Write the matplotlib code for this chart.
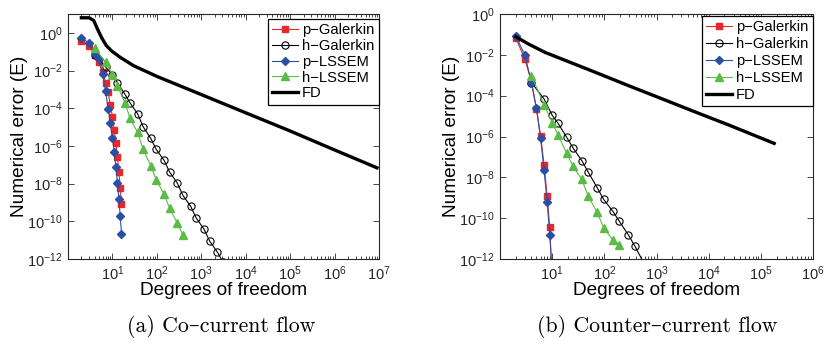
import numpy as np
import matplotlib
matplotlib.use('Agg')
import matplotlib.pyplot as plt
from matplotlib.ticker import LogLocator, NullFormatter, FixedLocator

plt.rcParams['font.family'] = ['Liberation Sans', 'DejaVu Sans']
plt.rcParams['mathtext.default'] = 'regular'

# ---- data: (a) co-current flow ----
dof_p_a = [2, 3, 4, 5, 6, 7, 8, 9, 10, 11, 12, 13, 14, 15, 16]
pgal_a = [0.39, 0.21, 0.067, 0.027, 8e-3, 2.3e-3, 6.9e-4, 1.4e-4, 3.6e-5,
          6.9e-6, 1.35e-6, 2.5e-7, 4e-8, 5.9e-9, 8.3e-10]
plss_a = [0.52, 0.29, 0.076, 0.041, 6.5e-3, 8.4e-4, 9.6e-5, 1.6e-5, 2.7e-6,
          4.7e-7, 7.4e-8, 1.1e-8, 1.5e-9, 1.8e-10, 2.2e-11]
dof_hgal_a = [4, 7, 10, 13, 19, 25, 37, 49, 73, 97, 145, 193, 289, 385, 577,
              769, 1153, 1537, 2305, 3073]
hgal_a = [0.069, 1.55e-2, 6e-3, 2.3e-3, 5.6e-4, 1.9e-4, 5e-5, 1.05e-5, 2.5e-6,
          6.5e-7, 1.74e-7, 4.2e-8, 1.05e-8, 2.4e-9, 6.2e-10, 1.5e-10,
          3.8e-11, 9.1e-12, 2.3e-12, 7e-13]
dof_hlss_a = [4, 7, 10, 13, 19, 25, 37, 49, 73, 97, 145, 193, 289, 385]
hlss_a = [0.16, 0.027, 6e-3, 1.55e-3, 2e-4, 2.9e-5, 5.2e-6, 6.5e-7, 9e-8,
          1.6e-8, 2.8e-9, 5e-10, 8e-11, 1.9e-11]
dof_fd_a = [2, 3, 3.8, 4.6, 5.8, 7.3, 9.8, 15, 30, 100, 946, 1.06e4, 1e5,
            9.4e5, 9e6]
fd_a = [6.3, 6.3, 4.5, 1.6, 0.52, 0.21, 0.105, 0.05, 0.018, 4.9e-3, 5.6e-4,
        5.4e-5, 6.2e-6, 6.5e-7, 6.9e-8]

# ---- data: (b) counter-current flow ----
dof_p_b = [2, 3, 4, 5, 6, 7, 8, 9, 10]
pgal_b = [0.069, 6e-3, 4.9e-4, 2.2e-5, 1.05e-6, 4e-8, 1.26e-9, 3.5e-11, 8e-14]
plss_b = [0.083, 9.8e-3, 4.4e-4, 2.4e-5, 8.1e-7, 2.3e-8, 6.4e-10, 1.5e-11, 2e-13]
dof_hgal_b = [4, 7, 10, 13, 19, 25, 37, 49, 73, 97, 145, 193, 289, 385, 577]
hgal_b = [4.4e-4, 6.9e-5, 1.1e-5, 4.4e-6, 9.1e-7, 2.8e-7, 6.6e-8, 1.8e-8,
          3.1e-9, 8.3e-10, 2.2e-10, 7.2e-11, 1.5e-11, 4.3e-12, 6e-13]
dof_hlss_b = [4, 7, 10, 13, 19, 25, 37, 49, 73, 97, 145, 193]
hlss_b = [9.5e-4, 3.6e-5, 4.8e-6, 1.2e-6, 1.5e-7, 3.6e-8, 8e-9, 1.2e-9,
          1.9e-10, 3.4e-11, 8.5e-12, 4.9e-12]
dof_fd_b = [2, 3.5, 7.4, 15.4, 67, 290, 1260, 5500, 2.4e4, 1.8e5]
fd_b = [0.078, 0.034, 0.013, 6.2e-3, 1.4e-3, 3.1e-4, 7.1e-5, 1.6e-5,
        3.7e-6, 4.6e-7]

labels = ['p\u2212Galerkin', 'h\u2212Galerkin', 'p\u2212LSSEM', 'h\u2212LSSEM', 'FD']
captions = ['(a) Co\u2013current flow', '(b) Counter\u2013current flow']

RED = '#e8262b'
BLUE = '#2b4fa5'
GREEN = '#5cba47'


def draw_panel(ax, p_dof, pgal, plss, hg_dof, hgal, hl_dof, hlss, fd_dof, fd,
               xmax, ymax, leg_top, leg_space):
    ax.plot(p_dof, pgal, '-s', color=RED, lw=0.8, ms=4.8, mec=RED, mfc=RED,
            label=labels[0])
    ax.plot(hg_dof, hgal, '-o', color='black', lw=0.8, ms=5.2, mfc='none',
            mew=0.8, label=labels[1])
    ax.plot(p_dof, plss, '-D', color=BLUE, lw=0.8, ms=4.4, label=labels[2])
    ax.plot(hl_dof, hlss, '-^', color=GREEN, lw=0.8, ms=5.6, label=labels[3])
    ax.plot(fd_dof, fd, '-', color='black', lw=2.4, label=labels[4])

    ax.set_xscale('log')
    ax.set_yscale('log')
    ax.set_xlim(1, xmax)
    ax.set_ylim(1e-12, ymax)

    # matlab-like ticks: major every decade on x (no label at 10^0),
    # every 2 decades on y
    ax.xaxis.set_major_locator(FixedLocator([10.0 ** k for k in range(1, 8)]))
    ax.xaxis.set_minor_locator(LogLocator(base=10, subs=np.arange(2, 10),
                                          numticks=50))
    ax.xaxis.set_minor_formatter(NullFormatter())
    ax.yaxis.set_major_locator(FixedLocator([10.0 ** k for k in range(-12, 1, 2)]))
    ax.yaxis.set_minor_locator(FixedLocator([]))
    ax.tick_params(which='both', direction='in', top=True, right=True,
                   labelsize=10.5, colors='#262626', width=0.6)
    ax.tick_params(which='major', length=4, pad=4)
    ax.tick_params(which='minor', length=2)
    for s in ax.spines.values():
        s.set_linewidth(0.8)
        s.set_color('#262626')

    ax.set_xlabel('Degrees of freedom', fontsize=13.7)
    ax.set_ylabel('Numerical error (E)', fontsize=13.7)
    ax.xaxis.set_label_coords(0.5, -0.095)
    ax.yaxis.set_label_coords(-0.128, 0.5)

    leg = ax.legend(loc='upper right', bbox_to_anchor=(1.0, leg_top),
                    borderaxespad=0, fontsize=10.6, fancybox=False,
                    framealpha=1, edgecolor='black', handlelength=1.75,
                    handletextpad=0.3, labelspacing=leg_space, borderpad=0.3)
    leg.get_frame().set_linewidth(0.9)


fig = plt.figure(figsize=(8.25, 3.47), dpi=100)
ax1 = fig.add_axes([68 / 825, 88 / 347, 311 / 825, 245 / 347])
ax2 = fig.add_axes([500 / 825, 88 / 347, 313 / 825, 245 / 347])

draw_panel(ax1, dof_p_a, pgal_a, plss_a, dof_hgal_a, hgal_a, dof_hlss_a,
           hlss_a, dof_fd_a, fd_a, 1e7, 1e1, 0.98, 0.12)
draw_panel(ax2, dof_p_b, pgal_b, plss_b, dof_hgal_b, hgal_b, dof_hlss_b,
           hlss_b, dof_fd_b, fd_b, 1e6, 1e0, 0.993, 0.2)

# captions below each panel (latex-like serif)
fig.text(221 / 825, 1 - 326 / 347, captions[0], ha='center', va='center',
         fontsize=15.7, family=['cmr10', 'DejaVu Serif'])
fig.text(657 / 825, 1 - 326 / 347, captions[1], ha='center', va='center',
         fontsize=15.7, family=['cmr10', 'DejaVu Serif'])

fig.savefig('out.png', dpi=100)
